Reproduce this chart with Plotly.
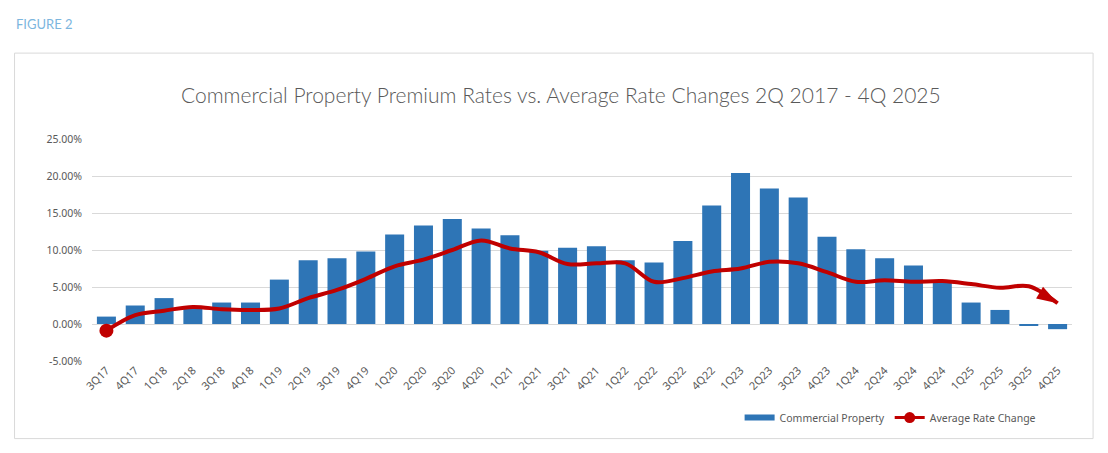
import plotly.graph_objects as go

quarters = ["3Q17", "4Q17",
            "1Q18", "2Q18", "3Q18", "4Q18",
            "1Q19", "2Q19", "3Q19", "4Q19",
            "1Q20", "2Q20", "3Q20", "4Q20",
            "1Q21", "2Q21", "3Q21", "4Q21",
            "1Q22", "2Q22", "3Q22", "4Q22",
            "1Q23", "2Q23", "3Q23", "4Q23",
            "1Q24", "2Q24", "3Q24", "4Q24",
            "1Q25", "2Q25", "3Q25", "4Q25"]

commercial_property = [1.0, 2.5,
                       3.5, 2.3, 2.9, 2.9,
                       6.0, 8.6, 8.9, 9.8,
                       12.1, 13.3, 14.2, 12.9,
                       12.0, 9.9, 10.3, 10.5,
                       8.6, 8.3, 11.2, 16.0,
                       20.4, 18.3, 17.1, 11.8,
                       10.1, 8.9, 7.9, 5.8,
                       2.9, 1.9, -0.15, -0.7]

average_rate_change = [-0.9, 1.2,
                       1.8, 2.3, 2.0, 1.9,
                       2.1, 3.5, 4.6, 6.1,
                       7.8, 8.7, 10.0, 11.3,
                       10.2, 9.7, 8.1, 8.2,
                       8.2, 5.7, 6.2, 7.1,
                       7.5, 8.4, 8.2, 7.0,
                       5.7, 5.9, 5.7, 5.8,
                       5.4, 4.9, 5.1, 2.8]

y_ticks = [-5, 0, 5, 10, 15, 20, 25]
y_tick_labels = ["-5.00%", "0.00%", "5.00%", "10.00%", "15.00%", "20.00%", "25.00%"]

# Page has an 8px body margin; work in reference pixels and shift.
OFF = 8
W, H = 1108 - OFF, 453 - OFF
L = 92 - OFF
R = W - (1072.4 - OFF)
T = 139 - OFF
B = H - (361.3 - OFF)
pw, ph = W - L - R, H - T - B

def px_x(x):
    return (x - OFF - L) / pw

def px_y(y):
    return (H - B - (y - OFF)) / ph

GRAY = "#595959"
RED = "#c00000"
BLUE = "#2e75b6"
n = len(quarters)
arrow_symbols = ["circle"] * (n - 1) + ["arrow"]
arrow_sizes = [0] * (n - 1) + [22]

fig = go.Figure()
fig.add_trace(go.Bar(
    x=quarters, y=commercial_property, name="Commercial Property",
    marker=dict(color=BLUE, line=dict(width=0)), showlegend=False,
))
fig.add_trace(go.Scatter(
    x=quarters, y=average_rate_change, name="Average Rate Change",
    mode="lines+markers", showlegend=False,
    line=dict(color=RED, width=4, shape="spline", smoothing=1.0),
    marker=dict(symbol=arrow_symbols, size=arrow_sizes, color=RED, opacity=1,
                angleref="previous", line=dict(width=0)),
))
fig.add_trace(go.Scatter(
    x=quarters[:1], y=average_rate_change[:1], mode="markers",
    showlegend=False, marker=dict(symbol="circle", size=14, color=RED),
))
# legend entries
fig.add_trace(go.Scatter(
    x=[None], y=[None], mode="lines", name="Commercial Property",
    line=dict(color=BLUE, width=6),
))
fig.add_trace(go.Scatter(
    x=[None], y=[None], mode="lines+markers", name="Average Rate Change",
    line=dict(color=RED, width=3), marker=dict(symbol="circle", size=11, color=RED),
))

fig.update_layout(
    width=W, height=H,
    margin=dict(l=L, r=R, t=T, b=B, autoexpand=False),
    paper_bgcolor="white", plot_bgcolor="white",
    bargap=0.34,
    font=dict(family="Noto Sans", color=GRAY, size=10),
    xaxis=dict(
        type="category", tickangle=-45, showgrid=False, showline=False,
        ticks="", tickfont=dict(size=11, color=GRAY), range=[-0.5, n - 0.5],
    ),
    yaxis=dict(
        range=[-5, 25], tickvals=y_ticks, ticktext=y_tick_labels,
        showgrid=True, gridcolor="#d9d9d9", gridwidth=1, zeroline=False,
        showline=False, tickfont=dict(size=10.5, color=GRAY),
        ticklabelstandoff=9,
    ),
    legend=dict(
        orientation="h", x=px_x(1042), xanchor="right",
        y=px_y(418), yanchor="middle", itemwidth=30,
        font=dict(size=10.5, color=GRAY), bgcolor="rgba(0,0,0,0)",
    ),
    shapes=[dict(
        type="rect", xref="paper", yref="paper",
        x0=px_x(14.5), x1=px_x(1093.5), y0=px_y(439), y1=px_y(53),
        line=dict(color="#d9d9d9", width=1), fillcolor="rgba(0,0,0,0)",
        layer="below",
    )],
    annotations=[
        dict(text="FIGURE 2", xref="paper", yref="paper",
             x=px_x(14), y=px_y(24), xanchor="left", yanchor="middle",
             showarrow=False, font=dict(family="Lato", size=13, color="#7cb6de")),
        dict(text="Commercial Property Premium Rates vs. Average Rate Changes 2Q 2017 - 4Q 2025",
             xref="paper", yref="paper", x=px_x(561), y=px_y(94),
             xanchor="center", yanchor="middle", showarrow=False,
             font=dict(family="Lato", size=21, color=GRAY, weight=300)),
    ],
)

fig.write_html("out.html", config={"displayModeBar": False})
